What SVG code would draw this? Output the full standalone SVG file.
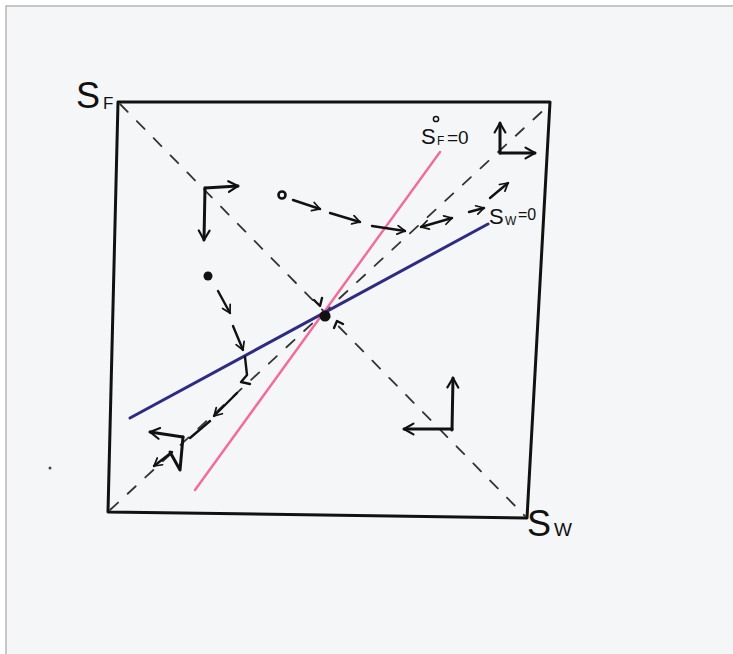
<svg xmlns="http://www.w3.org/2000/svg" width="733" height="654" viewBox="0 0 733 654">
<defs>
<marker id="ah" viewBox="0 0 10 10" refX="8" refY="5" markerWidth="4.5" markerHeight="4.5" orient="auto" markerUnits="strokeWidth">
<path d="M1,1 L8,5 L1,9" fill="none" stroke="#111" stroke-width="1.6" stroke-linecap="round" stroke-linejoin="round"/>
</marker>
<marker id="ahs" viewBox="0 0 10 10" refX="8" refY="5" markerWidth="4.5" markerHeight="4.5" orient="auto-start-reverse" markerUnits="strokeWidth">
<path d="M1,1 L8,5 L1,9" fill="none" stroke="#111" stroke-width="1.6" stroke-linecap="round" stroke-linejoin="round"/>
</marker>
</defs>
<style>
.ink{fill:none;stroke:#111;stroke-width:3;stroke-linecap:round;stroke-linejoin:round}
.thin{fill:none;stroke:#111;stroke-width:2.4;stroke-linecap:round;stroke-linejoin:round}
.dash{fill:none;stroke:#333;stroke-width:1.8;stroke-dasharray:11 13;stroke-linecap:round}
.lbl{font-family:"Liberation Sans",Arial,sans-serif;fill:#111}
</style>
<rect x="0" y="0" width="733" height="654" fill="#ffffff"/>
<rect x="6" y="6" width="727" height="648" fill="#f5f6f8"/>
<path d="M6,654 V6 H733" fill="none" stroke="#b5b5b5" stroke-width="1.5"/>
<g id="axes">
<path class="ink" d="M118,102 L550,102 L527,518 L108,512 Z"/>
</g>
<g id="diagonals">
<path class="dash" d="M120,104 L525,516"/>
<path class="dash" d="M110,510 L548,106"/>
</g>
<g id="nullclines">
<path d="M195,490 L440,152" stroke="#f26b9b" stroke-width="2.4" fill="none" stroke-linecap="round"/>
<path d="M130,418 L488,224" stroke="#2f2b82" stroke-width="3" fill="none" stroke-linecap="round"/>
</g>
<g id="labels">
<text class="lbl" x="76" y="108" font-size="36">S</text>
<text class="lbl" x="103" y="109" font-size="17">F</text>
<text class="lbl" x="527" y="536" font-size="36">S</text>
<text class="lbl" x="554" y="536" font-size="19">W</text>
<text class="lbl" x="421" y="144" font-size="22">S</text>
<circle cx="436" cy="119" r="2.6" fill="none" stroke="#111" stroke-width="1.5"/>
<text class="lbl" x="437" y="145" font-size="12">F</text>
<text class="lbl" x="447" y="144" font-size="19">=0</text>
<text class="lbl" x="489" y="224" font-size="22">S</text>
<text class="lbl" x="505" y="225" font-size="12">W</text>
<text class="lbl" x="518" y="220" font-size="16">=0</text>
</g>
<g id="equilibrium">
<circle cx="325" cy="316" r="5.5" fill="#111"/>
</g>
<g id="connectors">
<path class="ink" d="M205,188 L238,186" marker-end="url(#ah)"/>
<path class="ink" d="M205,188 L204,240" marker-end="url(#ah)"/>
<path class="ink" d="M500,153 L535,153" marker-end="url(#ah)"/>
<path class="ink" d="M500,153 L500,123" marker-end="url(#ah)"/>
<path class="ink" d="M452,430 L453,378" marker-end="url(#ah)"/>
<path class="ink" d="M452,429 L404,429" marker-end="url(#ah)"/>
<path class="ink" d="M183,437 L150,432" marker-end="url(#ah)"/>
<path class="ink" d="M183,437 L180,470 L170,452"/>
<path class="thin" d="M172,452 L154,466" marker-end="url(#ah)"/>
<circle cx="282" cy="195" r="3.5" fill="none" stroke="#111" stroke-width="2.6"/>
<path class="thin" d="M293,200 L320,209" marker-end="url(#ah)"/>
<path class="thin" d="M330,213 L360,222" marker-end="url(#ah)"/>
<path class="thin" d="M372,226 L405,231" marker-end="url(#ah)"/>
<path class="thin" d="M421,227 L452,218" marker-start="url(#ahs)" marker-end="url(#ah)"/>
<path class="thin" d="M469,212 L484,208" marker-end="url(#ah)"/>
<path class="thin" d="M490,198 L508,183" marker-end="url(#ah)"/>
<circle cx="208" cy="276" r="4.5" fill="#111"/>
<path class="thin" d="M218,291 L230,313" marker-end="url(#ah)"/>
<path class="thin" d="M233,326 L243,350" marker-end="url(#ah)"/>
<path class="thin" d="M245,357 L247,375 L241,382 L250,384"/>
<path class="thin" d="M237,393 L214,416" marker-end="url(#ah)"/>
<path class="thin" d="M210,421 L190,438"/>
<path class="thin" d="M314,300 L320,306 L322,298"/>
<path class="thin" d="M334,328 L337,321 L343,324"/>
</g>
<circle cx="50" cy="468" r="1.5" fill="#444"/>
</svg>
